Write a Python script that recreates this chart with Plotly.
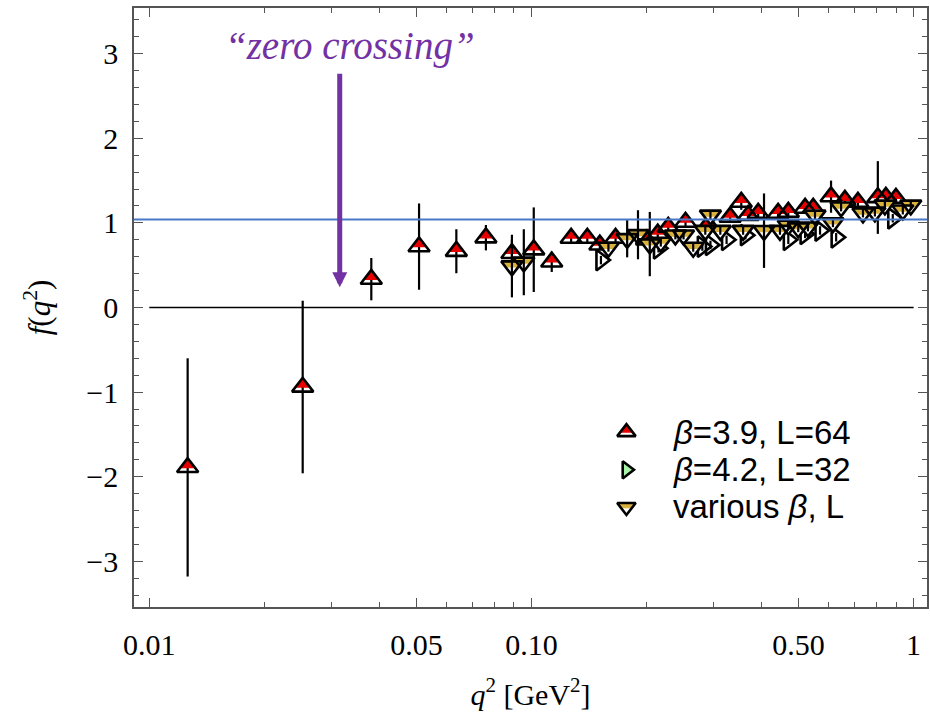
import numpy as np
import plotly.graph_objects as go

# ---- f(q^2) data -------------------------------------------------------
# beta = 3.9, L = 64
q2_b39 = [0.0126, 0.0252, 0.0381, 0.0508, 0.0636, 0.0760, 0.0889, 0.1014, 0.113, 0.127,
          0.140, 0.151, 0.166, 0.200, 0.214, 0.228, 0.253, 0.290, 0.331, 0.354,
          0.369, 0.392, 0.442, 0.470, 0.520, 0.546, 0.608, 0.661, 0.715, 0.806,
          0.846, 0.899]
f_b39 = [-1.89, -0.94, 0.335, 0.72, 0.665, 0.825, 0.64, 0.683, 0.54, 0.82,
         0.82, 0.74, 0.82, 0.80, 0.87, 0.95, 1.01, 0.98, 1.07, 1.245,
         1.09, 1.115, 1.115, 1.126, 1.174, 1.174, 1.31, 1.268, 1.245, 1.30,
         1.304, 1.292]
df_b39 = [1.29, 1.02, 0.25, 0.51, 0.26, 0.15, 0.165, 0.50, 0.12, 0.06,
          0.06, 0.05, 0.06, 0.06, 0.06, 0.06, 0.06, 0.05, 0.05, 0.09,
          0.05, 0.05, 0.05, 0.05, 0.05, 0.05, 0.19, 0.06, 0.05, 0.43,
          0.06, 0.05]

# beta = 4.2, L = 32
q2_b42 = [0.152, 0.215, 0.280, 0.294, 0.324, 0.363, 0.470, 0.520, 0.569, 0.627, 0.882]
f_b42 = [0.56, 0.70, 0.72, 0.74, 0.80, 0.855, 0.80, 0.87, 0.91, 0.83, 1.055]
df_b42 = [0.05, 0.05, 0.05, 0.05, 0.05, 0.05, 0.05, 0.05, 0.05, 0.05, 0.05]

# various beta, L
q2_var = [0.0889, 0.0955, 0.159, 0.178, 0.190, 0.204, 0.218, 0.238, 0.250, 0.265,
          0.285, 0.294, 0.312, 0.358, 0.406, 0.447, 0.470, 0.499, 0.529, 0.552,
          0.615, 0.646, 0.737, 0.792, 0.841, 0.937, 0.983]
f_var = [0.49, 0.535, 0.71, 0.813, 0.86, 0.75, 0.77, 0.855, 0.855, 0.71,
         0.91, 1.09, 0.91, 0.91, 0.908, 0.91, 0.97, 0.94, 0.95, 1.09,
         1.00, 1.186, 1.115, 1.126, 1.209, 1.15, 1.209]
df_var = [0.37, 0.39, 0.05, 0.22, 0.29, 0.38, 0.05, 0.05, 0.05, 0.05,
          0.05, 0.05, 0.05, 0.05, 0.44, 0.05, 0.05, 0.05, 0.05, 0.05,
          0.05, 0.05, 0.05, 0.05, 0.05, 0.05, 0.05]

legend_labels = ["<i>β</i>=3.9, L=64", "<i>β</i>=4.2, L=32", "various <i>β</i>, L"]

x_tickvals = [0.01, 0.05, 0.1, 0.5, 1]
x_ticktext = ["0.01", "0.05", "0.10", "0.50", "1"]
x_minorvals = [0.02, 0.03, 0.04, 0.06, 0.07, 0.08, 0.09,
               0.2, 0.3, 0.4, 0.6, 0.7, 0.8, 0.9]
y_tickvals = [-3, -2, -1, 0, 1, 2, 3]

ref_level = 1.04          # horizontal reference line
zero_span = [0.01, 1.0]   # extent of the f = 0 line
arrow_q2 = 0.0315         # where the "zero crossing" arrow points
arrow_tip_f = 0.24

# ---- styling / geometry -----------------------------------------------
RED = "#e60000"
GREEN = "#a6f2a6"
GOLD = "#d9b23e"
PURPLE = "#7232a3"
BLUE = "#4a78c8"
FRAME = "#555555"

W, H = 930, 727
MARGIN = dict(l=134, r=1, t=8, b=120, pad=0)
X_RANGE = [-2.04, 0.035]
Y_RANGE = [-3.54, 3.54]
PLOT_H = H - MARGIN["t"] - MARGIN["b"]
DATA_PER_PX = (Y_RANGE[1] - Y_RANGE[0]) / PLOT_H
LEG_PER_PX = 1.0 / PLOT_H

OUTLINE = dict(color="black", width=2.6)

fig = go.Figure()


def errbars(x, y, err, xa, ya):
    return go.Scatter(
        x=x, y=y, mode="markers", xaxis=xa, yaxis=ya,
        marker=dict(size=1, color="rgba(0,0,0,0)"),
        error_y=dict(type="data", array=err, color="black", thickness=2.2, width=0),
        hoverinfo="skip", showlegend=False,
    )


def two_tone(x, y, kind, size, yscale, err=None, xa="x", ya="y", fill=None):
    """Triangle markers with a coloured band and a black outline."""
    y = np.asarray(y, dtype=float)
    r = size / 2.0
    common = dict(mode="markers", xaxis=xa, yaxis=ya, hoverinfo="skip", showlegend=False)
    if kind == "up":
        k = 0.72   # fraction of the height taken by the red tip
        fig.add_trace(go.Scatter(x=x, y=y, marker=dict(symbol="triangle-up", size=size,
                                 color="white", line=dict(width=0)), **common))
        if err is not None:
            fig.add_trace(errbars(x, y, err, xa, ya))
        fig.add_trace(go.Scatter(x=x, y=y + r * (1 - k) * yscale,
                                 marker=dict(symbol="triangle-up", size=size * k,
                                             color=RED, line=dict(width=0)), **common))
        fig.add_trace(go.Scatter(x=x, y=y, marker=dict(symbol="triangle-up", size=size,
                                 color="rgba(0,0,0,0)", line=OUTLINE), **common))
    elif kind == "down":
        k = 0.56   # fraction of the height left white at the tip
        fig.add_trace(go.Scatter(x=x, y=y, marker=dict(symbol="triangle-down", size=size,
                                 color=GOLD, line=dict(width=0)), **common))
        fig.add_trace(go.Scatter(x=x, y=y - r * (1 - k) * yscale,
                                 marker=dict(symbol="triangle-down", size=size * k,
                                             color="white", line=dict(width=0)), **common))
        if err is not None:
            fig.add_trace(errbars(x, y, err, xa, ya))
        fig.add_trace(go.Scatter(x=x, y=y, marker=dict(symbol="triangle-down", size=size,
                                 color="rgba(0,0,0,0)", line=OUTLINE), **common))
    else:  # right-pointing
        fig.add_trace(go.Scatter(x=x, y=y, marker=dict(symbol="triangle-right", size=size,
                                 color=fill, line=dict(width=0)), **common))
        if err is not None:
            fig.add_trace(errbars(x, y, err, xa, ya))
        fig.add_trace(go.Scatter(x=x, y=y, marker=dict(symbol="triangle-right", size=size,
                                 color="rgba(0,0,0,0)", line=OUTLINE), **common))


# f = 0 line
fig.add_trace(go.Scatter(x=zero_span, y=[0, 0], mode="lines",
                         line=dict(color="black", width=1.6),
                         hoverinfo="skip", showlegend=False))

# data series
two_tone(q2_b42, f_b42, "right", 18, DATA_PER_PX, err=df_b42, fill="white")
two_tone(q2_b39, f_b39, "up", 18.5, DATA_PER_PX, err=df_b39)
two_tone(q2_var, f_var, "down", 18.5, DATA_PER_PX, err=df_var)

# legend, drawn on an overlay axis in [0, 1] units
leg_x = 0.621
leg_y = [0.292, 0.229, 0.167]
two_tone([leg_x], [leg_y[0]], "up", 16, LEG_PER_PX, xa="x2", ya="y2")
two_tone([leg_x], [leg_y[1]], "right", 15, LEG_PER_PX, xa="x2", ya="y2", fill=GREEN)
two_tone([leg_x], [leg_y[2]], "down", 16, LEG_PER_PX, xa="x2", ya="y2")

annotations = []
for label, yy in zip(legend_labels, leg_y):
    annotations.append(dict(text=label, xref="paper", yref="paper", x=0.677, y=yy,
                            xanchor="left", yanchor="middle", showarrow=False,
                            font=dict(family="Liberation Sans", size=33, color="black")))

# "zero crossing" label and arrow
annotations.append(dict(text="“zero crossing”", xref="paper", yref="paper",
                        x=0.273, y=0.937, xanchor="center", yanchor="middle",
                        showarrow=False,
                        font=dict(family="Liberation Serif", size=39, color=PURPLE,
                                  style="italic")))
annotations.append(dict(text="", x=np.log10(arrow_q2), y=arrow_tip_f, xref="x", yref="y",
                        showarrow=True, ax=0, ay=-215, arrowhead=2, arrowsize=0.6,
                        arrowwidth=5, arrowcolor=PURPLE, standoff=0))

axis_common = dict(showline=True, linecolor=FRAME, linewidth=1.5, mirror="allticks",
                   ticks="inside", tickcolor=FRAME, tickwidth=1.2, ticklen=9,
                   showgrid=False, zeroline=False,
                   tickfont=dict(family="Liberation Serif", size=30, color="black"))

fig.update_layout(
    width=W, height=H, margin=MARGIN,
    paper_bgcolor="white", plot_bgcolor="white", showlegend=False,
    xaxis=dict(type="log", range=X_RANGE, tickvals=x_tickvals, ticktext=x_ticktext,
               ticklabelstandoff=10,
               minor=dict(tickvals=x_minorvals, ticks="inside", ticklen=5,
                          tickcolor=FRAME, tickwidth=1.2),
               title=dict(text="<i>q</i><sup>2</sup> [GeV<sup>2</sup>]", standoff=24,
                          font=dict(family="Liberation Serif", size=30, color="black")),
               **axis_common),
    yaxis=dict(range=Y_RANGE, tickvals=y_tickvals, ticklabelstandoff=8,
               minor=dict(dtick=0.2, ticks="inside", ticklen=5,
                          tickcolor=FRAME, tickwidth=1.2),
               title=dict(text="<i>f</i>(<i>q</i><sup>2</sup>)", standoff=26,
                          font=dict(family="Liberation Serif", size=31, color="black")),
               **axis_common),
    xaxis2=dict(overlaying="x", range=[0, 1], visible=False, anchor="y2"),
    yaxis2=dict(overlaying="y", range=[0, 1], visible=False, anchor="x2"),
    shapes=[dict(type="line", xref="paper", yref="y", x0=0, x1=1,
                 y0=ref_level, y1=ref_level, line=dict(color=BLUE, width=2.2),
                 layer="above")],
    annotations=annotations,
)

fig.write_html("out.html")
